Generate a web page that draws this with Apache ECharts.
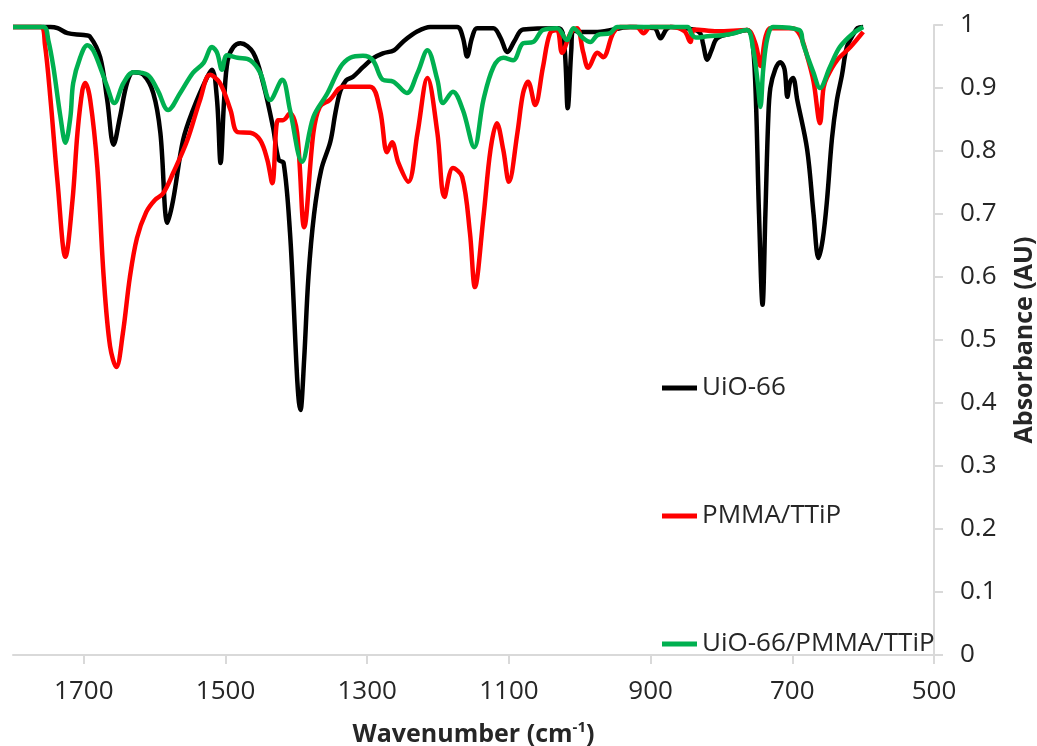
<!DOCTYPE html>
<html>
<head>
<meta charset="utf-8">
<title>FTIR spectra</title>
<script src="https://cdn.jsdelivr.net/npm/echarts@6/dist/echarts.min.js"></script>
<style>
  html, body { margin: 0; padding: 0; background: #ffffff; }
  #chart { width: 1037px; height: 746px; }
</style>
</head>
<body>
<div id="chart"></div>
<script>
// Spectra as [wavenumber (cm-1), absorbance (AU)] pairs
const uio66 = [
  [1800, 0.997], [1747, 0.997], [1737, 0.995], [1723, 0.987], [1700, 0.984], [1691, 0.981],
  [1677, 0.949], [1667, 0.881], [1658, 0.81], [1649, 0.854], [1639, 0.908], [1630, 0.925],
  [1616, 0.921], [1602, 0.892], [1592, 0.829], [1582, 0.686], [1574, 0.722], [1560, 0.817],
  [1546, 0.865], [1526, 0.917], [1519, 0.929], [1512, 0.881], [1507, 0.781], [1502, 0.881],
  [1497, 0.944], [1489, 0.965], [1479, 0.971], [1461, 0.956], [1447, 0.908], [1433, 0.838],
  [1425, 0.786], [1418, 0.781], [1409, 0.67], [1394, 0.389], [1389, 0.47], [1383, 0.6],
  [1375, 0.7], [1365, 0.77], [1352, 0.815], [1345, 0.86], [1338, 0.895],
  [1330, 0.912], [1320, 0.918], [1306, 0.933], [1292, 0.947], [1278, 0.955], [1262, 0.96],
  [1249, 0.974], [1229, 0.99], [1211, 0.997], [1173, 0.997], [1165, 0.98], [1159, 0.95],
  [1152, 0.98], [1145, 0.995], [1122, 0.995], [1112, 0.98], [1102, 0.957], [1092, 0.975],
  [1080, 0.993], [1030, 0.995], [1022, 0.97], [1017, 0.868], [1012, 0.96], [1009, 0.992],
  [1000, 0.989], [975, 0.989], [929, 0.997], [895, 0.995], [886, 0.979], [878, 0.993],
  [872, 0.997], [840, 0.993], [830, 0.987], [826, 0.97], [820, 0.945], [814, 0.96],
  [806, 0.979], [783, 0.987], [764, 0.992], [757, 0.98], [752, 0.9], [747, 0.7],
  [742, 0.556], [738, 0.7], [734, 0.85], [731, 0.9], [724, 0.93], [717, 0.941],
  [711, 0.93], [707, 0.886], [703, 0.91], [699, 0.916], [693, 0.881], [679, 0.802],
  [670, 0.7], [663, 0.63], [657, 0.66], [651, 0.722], [644, 0.82], [637, 0.881],
  [630, 0.92], [623, 0.965], [614, 0.985], [608, 0.995], [600, 0.997]
];

const pmmaTtip = [
  [1800, 0.997], [1761, 0.997], [1755, 0.97], [1747, 0.881], [1737, 0.749], [1726, 0.632],
  [1716, 0.722], [1709, 0.829], [1702, 0.897], [1698, 0.908], [1691, 0.881], [1681, 0.775],
  [1672, 0.6], [1663, 0.49], [1654, 0.457], [1645, 0.51], [1635, 0.6],
  [1625, 0.662], [1612, 0.703], [1600, 0.722], [1588, 0.733], [1574, 0.765], [1554, 0.817], [1536, 0.881],
  [1522, 0.921], [1508, 0.908], [1493, 0.865], [1483, 0.83], [1465, 0.829], [1451, 0.817],
  [1441, 0.786], [1434, 0.749], [1426, 0.849], [1419, 0.849], [1409, 0.86], [1399, 0.829],
  [1389, 0.679], [1376, 0.829], [1367, 0.87], [1353, 0.881], [1334, 0.902], [1296, 0.902],
  [1282, 0.865], [1272, 0.798], [1265, 0.814], [1256, 0.781], [1242, 0.751], [1229, 0.829],
  [1215, 0.916], [1201, 0.829], [1191, 0.727], [1179, 0.773], [1166, 0.759], [1155, 0.67],
  [1148, 0.584], [1136, 0.695], [1126, 0.802], [1117, 0.844], [1108, 0.802], [1100, 0.751],
  [1088, 0.829], [1080, 0.892], [1073, 0.91], [1063, 0.873], [1052, 0.933], [1042, 0.987],
  [1032, 0.992], [1025, 0.956], [1013, 0.987], [1004, 0.995], [995, 0.956], [988, 0.932],
  [975, 0.956], [967, 0.949], [953, 0.987], [943, 0.997], [920, 0.997], [910, 0.987],
  [900, 0.997], [870, 0.997], [852, 0.99], [844, 0.973], [838, 0.993], [806, 0.99],
  [764, 0.992], [752, 0.97], [745, 0.935], [738, 0.98], [731, 0.995], [700, 0.995],
  [689, 0.984], [679, 0.95], [670, 0.91], [661, 0.844], [656, 0.9], [651, 0.917],
  [637, 0.944], [618, 0.965], [600, 0.989]
];

const uio66PmmaTtip = [
  [1800, 0.997], [1757, 0.997], [1750, 0.975], [1743, 0.933], [1733, 0.854], [1726, 0.813],
  [1719, 0.854], [1715, 0.908], [1705, 0.949], [1695, 0.968], [1687, 0.96], [1677, 0.933],
  [1667, 0.902], [1657, 0.876], [1644, 0.908], [1630, 0.925], [1610, 0.921], [1596, 0.897],
  [1581, 0.865], [1564, 0.892], [1546, 0.924], [1531, 0.94], [1519, 0.965], [1512, 0.956],
  [1505, 0.929], [1498, 0.952], [1483, 0.948], [1465, 0.944], [1451, 0.924], [1437, 0.881],
  [1420, 0.913], [1409, 0.865], [1392, 0.783], [1376, 0.854], [1356, 0.892], [1338, 0.933],
  [1324, 0.948], [1306, 0.951], [1292, 0.944], [1278, 0.913], [1263, 0.91], [1244, 0.892],
  [1229, 0.924], [1215, 0.96], [1201, 0.913], [1193, 0.876], [1179, 0.894], [1165, 0.865],
  [1149, 0.806], [1136, 0.881], [1122, 0.933], [1108, 0.948], [1094, 0.944], [1080, 0.971],
  [1066, 0.973], [1052, 0.992], [1032, 0.995], [1018, 0.976], [1009, 0.995], [995, 0.979],
  [985, 0.973], [975, 0.984], [957, 0.987], [947, 0.997], [848, 0.997], [842, 0.985],
  [836, 0.98], [820, 0.982], [790, 0.985], [764, 0.992], [755, 0.96], [749, 0.91],
  [745, 0.87], [741, 0.93], [735, 0.98], [727, 0.997], [690, 0.992], [685, 0.971],
  [670, 0.924], [661, 0.9], [647, 0.933], [633, 0.965], [614, 0.987], [600, 0.997]
];

const seriesNames = ['UiO-66', 'PMMA/TTiP', 'UiO-66/PMMA/TTiP'];
const seriesColors = ['#000000', '#ff0000', '#00b050'];
const xTicks = [500, 700, 900, 1100, 1300, 1500, 1700];

const FONT = 'Open Sans';
const FONT_SIZE = 26;
const TITLE_SIZE = 25;
const TEXT_COLOR = '#262626';
const AXIS_COLOR = '#d9d9d9';

const chart = echarts.init(document.getElementById('chart'), null, { renderer: 'canvas' });

const datasets = [uio66, pmmaTtip, uio66PmmaTtip];

chart.setOption({
  animation: false,
  backgroundColor: '#ffffff',
  grid: { left: 13, right: 103, top: 25, bottom: 91, containLabel: false, outerBoundsMode: 'none' },
  legend: {
    orient: 'vertical',
    left: 657,
    top: 368,
    itemGap: 98,
    itemWidth: 35,
    itemHeight: 5,
    icon: 'rect',
    selectedMode: false,
    data: seriesNames,
    textStyle: { fontFamily: FONT, fontSize: FONT_SIZE, color: TEXT_COLOR, lineHeight: 30 }
  },
  xAxis: {
    type: 'value',
    min: 500,
    max: 1800,
    interval: 200,
    inverse: true,
    name: 'Wavenumber (cm{sup|-1})',
    nameLocation: 'middle',
    nameGap: 65,
    nameTextStyle: {
      fontFamily: FONT, fontSize: TITLE_SIZE, fontWeight: 'bold', color: TEXT_COLOR, lineHeight: 30,
      rich: { sup: { fontFamily: FONT, fontSize: 15, fontWeight: 'bold', color: TEXT_COLOR, verticalAlign: 'top', lineHeight: 22 } }
    },
    axisLine: { show: true, lineStyle: { color: AXIS_COLOR, width: 2 } },
    axisTick: { show: true, length: 9, inside: false, customValues: xTicks, lineStyle: { color: AXIS_COLOR, width: 2 } },
    axisLabel: {
      customValues: xTicks,
      margin: 24,
      fontFamily: FONT, fontSize: FONT_SIZE, color: TEXT_COLOR,
      formatter: v => (v === 1800 ? '' : String(v))
    },
    splitLine: { show: false }
  },
  yAxis: {
    type: 'value',
    position: 'right',
    min: 0,
    max: 1,
    interval: 0.1,
    name: 'Absorbance (AU)',
    nameLocation: 'middle',
    nameGap: 78,
    nameTextStyle: { fontFamily: FONT, fontSize: TITLE_SIZE, fontWeight: 'bold', color: TEXT_COLOR },
    axisLine: { show: true, lineStyle: { color: AXIS_COLOR, width: 2 } },
    axisTick: { show: true, length: 9, inside: false, lineStyle: { color: AXIS_COLOR, width: 2 } },
    axisLabel: {
      margin: 26,
      fontFamily: FONT, fontSize: FONT_SIZE, color: TEXT_COLOR,
      formatter: v => String(Math.round(v * 10) / 10)
    },
    splitLine: { show: false }
  },
  series: datasets.map((d, i) => ({
    name: seriesNames[i],
    type: 'line',
    data: d,
    showSymbol: false,
    symbol: 'none',
    smooth: 0.35,
    color: seriesColors[i],
    lineStyle: { color: seriesColors[i], width: 4.5 },
    z: 2 + i
  }))
});
</script>
</body>
</html>
